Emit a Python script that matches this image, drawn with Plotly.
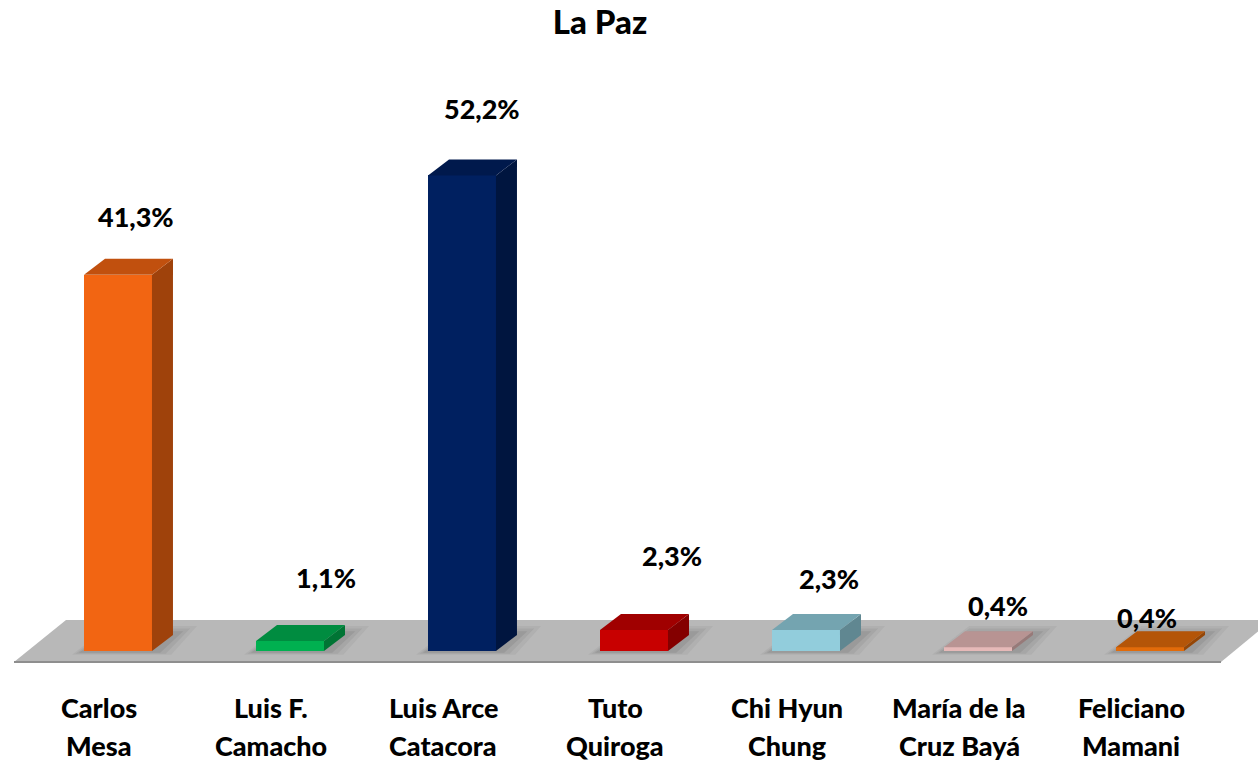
import plotly.graph_objects as go

# ---------------- data ----------------
title_text = "La Paz"
candidates_line1 = ["Carlos", "Luis F.", "Luis Arce", "Tuto", "Chi Hyun", "María de la", "Feliciano"]
candidates_line2 = ["Mesa", "Camacho", "Catacora", "Quiroga", "Chung", "Cruz Bayá", "Mamani"]
values = [41.3, 1.1, 52.2, 2.3, 2.3, 0.4, 0.4]
value_labels = ["41,3%", "1,1%", "52,2%", "2,3%", "2,3%", "0,4%", "0,4%"]

# ---------------- style ----------------
front_colors = ["#F26512", "#00B050", "#002060", "#C80000", "#92CDDC", "#E6B9B8", "#E26B0A"]
label_xshift = [18, 36, 20, 38, 23, 20, -3]
label_yshift = [58, 63, 67, 75, 52, 42, 30]

OFF = 0                      # body margin removed by post_script below
W, H = 1258 - OFF, 764 - OFF
PX_PER_CAT = 172.0
PX_PER_PCT = 9.11
X0_PX = 118.0 - OFF          # pixel of category 0 centre
Y0_PX = 651.0 - OFF          # pixel of value 0
BAR_W = 0.395
DEPTH_X = 21 / PX_PER_CAT
DEPTH_Y = 16 / PX_PER_PCT
FONT = "Lato"
WEIGHT = 900


def shade(hex_color, f):
    h = hex_color.lstrip("#")
    r, g, b = (int(h[i:i + 2], 16) for i in (0, 2, 4))
    return "rgb({},{},{})".format(int(r * f), int(g * f), int(b * f))


def px_x(p):
    return (p - OFF - X0_PX) / PX_PER_CAT


def px_y(p):
    return (Y0_PX - (p - OFF)) / PX_PER_PCT


x_range = [-X0_PX / PX_PER_CAT, (W - X0_PX) / PX_PER_CAT]
y_range = [-(H - Y0_PX) / PX_PER_PCT, Y0_PX / PX_PER_PCT]

fig = go.Figure()
shapes = []

# floor
ff, fb = px_y(662), px_y(620)
fx = [px_x(14), px_x(66), px_x(1272), px_x(1221)]
shapes.append(dict(
    type="path", xref="x", yref="y", layer="below",
    path="M {},{} L {},{} L {},{} L {},{} Z".format(fx[0], ff, fx[1], fb, fx[2], fb, fx[3], ff),
    fillcolor="#B8B8B8", line=dict(width=0)))
shapes.append(dict(
    type="line", xref="x", yref="y", layer="below",
    x0=fx[0], y0=ff, x1=fx[3], y1=ff, line=dict(color="#8E8E8E", width=2)))

# soft shadows behind bars
for i, v in enumerate(values):
    xl = i - BAR_W / 2
    xr = i + BAR_W / 2
    for k, op in [(1.4, 0.06), (1.0, 0.08), (0.6, 0.10)]:
        shapes.append(dict(
            type="path", xref="x", yref="y", layer="below",
            path="M {},{} L {},{} L {},{} L {},{} Z".format(
                xl - 0.05 * k, -0.3 * k, xl + DEPTH_X * 1.2, DEPTH_Y * (1 + 0.4 * k),
                xr + DEPTH_X + 0.1 * k, DEPTH_Y * (1 + 0.4 * k), xr + 0.08 * k, -0.3 * k),
            fillcolor="rgba(50,50,50,{})".format(op), line=dict(width=0)))

# front faces
cats = list(range(len(values)))
fig.add_trace(go.Bar(
    x=cats, y=values, width=BAR_W, marker=dict(color=front_colors, line=dict(width=0)),
    hoverinfo="skip", showlegend=False))

# side and top faces
for i, v in enumerate(values):
    xl = i - BAR_W / 2
    xr = i + BAR_W / 2
    fig.add_trace(go.Scatter(
        x=[xr, xr + DEPTH_X, xr + DEPTH_X, xr, xr],
        y=[0, DEPTH_Y, v + DEPTH_Y, v, 0],
        fill="toself", fillcolor=shade(front_colors[i], 0.66), mode="lines",
        line=dict(width=0), hoverinfo="skip", showlegend=False))
    fig.add_trace(go.Scatter(
        x=[xl, xl + DEPTH_X, xr + DEPTH_X, xr, xl],
        y=[v, v + DEPTH_Y, v + DEPTH_Y, v, v],
        fill="toself", fillcolor=shade(front_colors[i], 0.80), mode="lines",
        line=dict(width=0), hoverinfo="skip", showlegend=False))

txt_font = dict(family=FONT, size=27, color="#000000", weight=WEIGHT)
annotations = []
for i, v in enumerate(values):
    annotations.append(dict(
        x=i, y=v, xref="x", yref="y", text=value_labels[i],
        showarrow=False, xshift=label_xshift[i], yshift=label_yshift[i],
        xanchor="center", yanchor="middle", font=txt_font))
    lx = i - 19 / PX_PER_CAT
    annotations.append(dict(
        x=lx, y=px_y(707), xref="x", yref="y",
        text=candidates_line1[i], showarrow=False,
        xanchor="center", yanchor="middle", font=txt_font))
    annotations.append(dict(
        x=lx, y=px_y(745), xref="x", yref="y",
        text=candidates_line2[i], showarrow=False,
        xanchor="center", yanchor="middle", font=txt_font))

fig.update_layout(
    width=W, height=H, autosize=False,
    margin=dict(l=0, r=0, t=0, b=0),
    paper_bgcolor="white", plot_bgcolor="white",
    title=dict(text=title_text, x=(600 - OFF) / W, xanchor="center",
               y=1 - (22 - OFF) / H, yanchor="middle",
               font=dict(family=FONT, size=33, color="#000000", weight=WEIGHT)),
    xaxis=dict(range=x_range, visible=False, fixedrange=True),
    yaxis=dict(range=y_range, visible=False, fixedrange=True),
    annotations=annotations,
    shapes=shapes,
    bargap=0,
)

fig.write_html("out.html", config={"displayModeBar": False},
               post_script="document.body.style.margin='0';")
